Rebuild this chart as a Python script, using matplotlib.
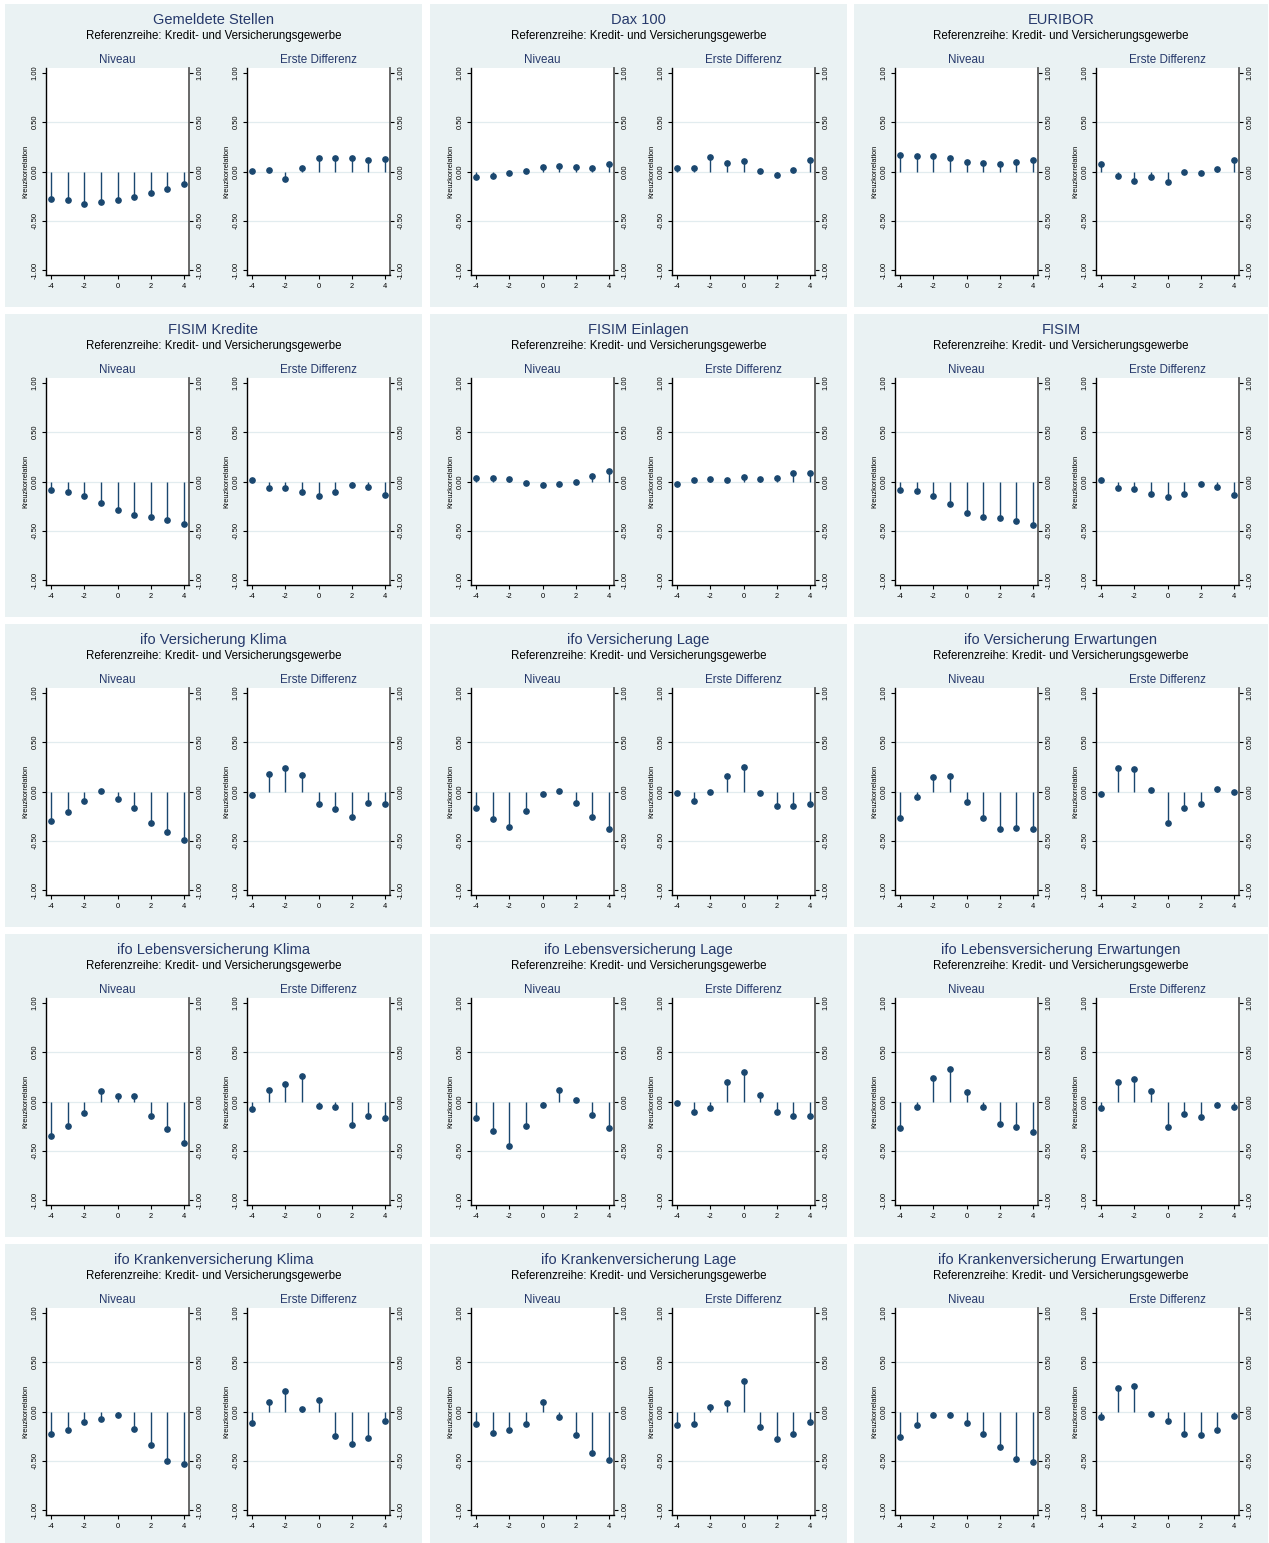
import matplotlib
matplotlib.use('Agg')
import matplotlib.pyplot as plt
from matplotlib.patches import Rectangle

plt.rcParams['font.family'] = ['Liberation Sans', 'DejaVu Sans']

# ---------------- data ----------------
lags = [-4, -3, -2, -1, 0, 1, 2, 3, 4]
subtitle = "Referenzreihe: Kredit- und Versicherungsgewerbe"
sub_titles = ["Niveau", "Erste Differenz"]
titles = ["Gemeldete Stellen", "Dax 100", "EURIBOR",
          "FISIM Kredite", "FISIM Einlagen", "FISIM",
          "ifo Versicherung Klima", "ifo Versicherung Lage", "ifo Versicherung Erwartungen",
          "ifo Lebensversicherung Klima", "ifo Lebensversicherung Lage", "ifo Lebensversicherung Erwartungen",
          "ifo Krankenversicherung Klima", "ifo Krankenversicherung Lage", "ifo Krankenversicherung Erwartungen"]

stellen_niv = [-0.28, -0.287, -0.334, -0.314, -0.287, -0.26, -0.223, -0.176, -0.128]
stellen_dif = [0.01, 0.02, -0.074, 0.04, 0.135, 0.132, 0.135, 0.118, 0.128]
dax_niv = [-0.054, -0.047, -0.02, 0.01, 0.044, 0.057, 0.047, 0.04, 0.074]
dax_dif = [0.037, 0.034, 0.145, 0.091, 0.105, 0.01, -0.04, 0.017, 0.118]
euribor_niv = [0.166, 0.159, 0.155, 0.135, 0.098, 0.088, 0.081, 0.098, 0.118]
euribor_dif = [0.074, -0.044, -0.095, -0.051, -0.111, -0.007, -0.014, 0.027, 0.118]
fisimk_niv = [-0.084, -0.105, -0.145, -0.22, -0.294, -0.341, -0.358, -0.395, -0.436]
fisimk_dif = [0.014, -0.064, -0.071, -0.108, -0.145, -0.111, -0.034, -0.057, -0.139]
fisime_niv = [0.037, 0.037, 0.024, -0.02, -0.034, -0.024, 0.0, 0.054, 0.111]
fisime_dif = [-0.03, 0.014, 0.024, 0.02, 0.041, 0.024, 0.037, 0.088, 0.091]
fisim_niv = [-0.084, -0.101, -0.149, -0.233, -0.318, -0.358, -0.375, -0.405, -0.443]
fisim_dif = [0.014, -0.068, -0.074, -0.122, -0.159, -0.122, -0.03, -0.051, -0.139]
vk_niv = [-0.301, -0.213, -0.101, 0.007, -0.081, -0.166, -0.324, -0.409, -0.49]
vk_dif = [-0.037, 0.179, 0.243, 0.169, -0.122, -0.182, -0.257, -0.115, -0.125]
vl_niv = [-0.166, -0.28, -0.358, -0.196, -0.03, 0.01, -0.115, -0.257, -0.378]
vl_dif = [-0.014, -0.098, 0.0, 0.159, 0.25, -0.02, -0.145, -0.145, -0.128]
ve_niv = [-0.27, -0.057, 0.152, 0.162, -0.105, -0.264, -0.378, -0.375, -0.385]
ve_dif = [-0.024, 0.243, 0.23, 0.014, -0.324, -0.169, -0.128, 0.024, -0.007]
lk_niv = [-0.347, -0.252, -0.119, 0.105, 0.058, 0.051, -0.143, -0.276, -0.422]
lk_dif = [-0.078, 0.119, 0.18, 0.259, -0.041, -0.054, -0.235, -0.143, -0.163]
ll_niv = [-0.167, -0.303, -0.456, -0.252, -0.031, 0.112, 0.017, -0.136, -0.272]
ll_dif = [-0.02, -0.109, -0.071, 0.194, 0.296, 0.061, -0.102, -0.143, -0.143]
le_niv = [-0.272, -0.051, 0.238, 0.33, 0.092, -0.051, -0.228, -0.262, -0.313]
le_dif = [-0.061, 0.194, 0.224, 0.102, -0.259, -0.126, -0.16, -0.031, -0.051]
kk_niv = [-0.226, -0.185, -0.103, -0.079, -0.038, -0.175, -0.339, -0.5, -0.535]
kk_dif = [-0.116, 0.096, 0.209, 0.027, 0.116, -0.247, -0.332, -0.271, -0.096]
kl_niv = [-0.127, -0.219, -0.192, -0.127, 0.099, -0.058, -0.24, -0.421, -0.497]
kl_dif = [-0.14, -0.127, 0.048, 0.086, 0.312, -0.161, -0.281, -0.233, -0.106]
ke_niv = [-0.257, -0.14, -0.038, -0.038, -0.116, -0.229, -0.359, -0.486, -0.51]
ke_dif = [-0.058, 0.24, 0.257, -0.024, -0.092, -0.226, -0.236, -0.192, -0.045]

y_ticks = [-1.0, -0.5, 0.0, 0.5, 1.0]
y_ticklabels = ["-1.00", "-0.50", "0.00", "0.50", "1.00"]
x_ticks = [-4, -2, 0, 2, 4]

niveau_series = [stellen_niv, dax_niv, euribor_niv, fisimk_niv, fisime_niv, fisim_niv,
                 vk_niv, vl_niv, ve_niv, lk_niv, ll_niv, le_niv, kk_niv, kl_niv, ke_niv]
diff_series = [stellen_dif, dax_dif, euribor_dif, fisimk_dif, fisime_dif, fisim_dif,
               vk_dif, vl_dif, ve_dif, lk_dif, ll_dif, le_dif, kk_dif, kl_dif, ke_dif]

# ---------------- style ----------------
W, H = 1269, 1543
BG = '#eaf2f3'
NAVY = '#26396b'
MARK = '#1a476f'
GRID = '#e2ecef'

fig = plt.figure(figsize=(W / 100, H / 100), dpi=100)
fig.patch.set_facecolor('white')

col_x = [5, 430, 854]
col_w = [417, 417, 414]
ph = 303


def fx(x):
    return x / W


def fy(y):
    return 1 - y / H


for i, title in enumerate(titles):
    r, c = divmod(i, 3)
    px, pw = col_x[c], col_w[c]
    py = 4 + 310 * r
    fig.patches.append(Rectangle((fx(px), fy(py + ph)), pw / W, ph / H,
                                 transform=fig.transFigure, facecolor=BG,
                                 edgecolor='none', zorder=-10))
    fig.text(fx(px + pw / 2), fy(py + 16), title, ha='center', va='center',
             fontsize=10.5, color=NAVY)
    fig.text(fx(px + pw / 2), fy(py + 32), subtitle, ha='center', va='center',
             fontsize=8.3, color='black')

    for k, vals in enumerate([niveau_series[i], diff_series[i]]):
        axx = [41, 242][k]
        ax = fig.add_axes([fx(px + axx), fy(py + 64 + 207), 143 / W, 207 / H])
        ax.set_zorder(5)
        ax.set_facecolor('white')
        ax.set_xlim(-4.3, 4.3)
        ax.set_ylim(-1.05, 1.05)
        for g in [-0.5, 0.0, 0.5]:
            ax.axhline(g, color=GRID, lw=0.9, zorder=1)
        ax.vlines(lags, 0, vals, color=MARK, lw=1.0, zorder=2)
        ax.plot(lags, vals, 'o', color=MARK, ms=3.8, mec=MARK, zorder=3)

        ax.set_xticks(x_ticks)
        ax.set_xticklabels([str(t) for t in x_ticks])
        ax.set_yticks(y_ticks)
        ax.set_yticklabels(y_ticklabels)
        ax.tick_params(axis='x', length=3, width=0.8, pad=2.5, labelsize=5.4, colors='black')
        ax.tick_params(axis='y', which='both', left=True, right=True, labelleft=True,
                       labelright=True, length=3, width=0.8, pad=2.5, labelsize=5.4)
        for t in ax.yaxis.get_major_ticks():
            t.label1.set_rotation(90)
            t.label1.set_va('center')
            t.label2.set_rotation(90)
            t.label2.set_va('center')
        ax.spines['top'].set_visible(False)
        ax.spines['left'].set_color('black')
        ax.spines['left'].set_linewidth(1.0)
        ax.spines['bottom'].set_color('black')
        ax.spines['bottom'].set_linewidth(1.0)
        ax.spines['right'].set_color('#5c5c5c')
        ax.spines['right'].set_linewidth(1.3)

        fig.text(fx(px + axx + 71.5), fy(py + 56), sub_titles[k], ha='center', va='center',
                 fontsize=8.4, color=NAVY)
        fig.text(fx(px + axx - 20), fy(py + 167), 'Kreuzkorrelation', ha='center',
                 va='center', rotation=90, fontsize=5.3, color='black')

fig.savefig('out.png', dpi=100, facecolor='white')
